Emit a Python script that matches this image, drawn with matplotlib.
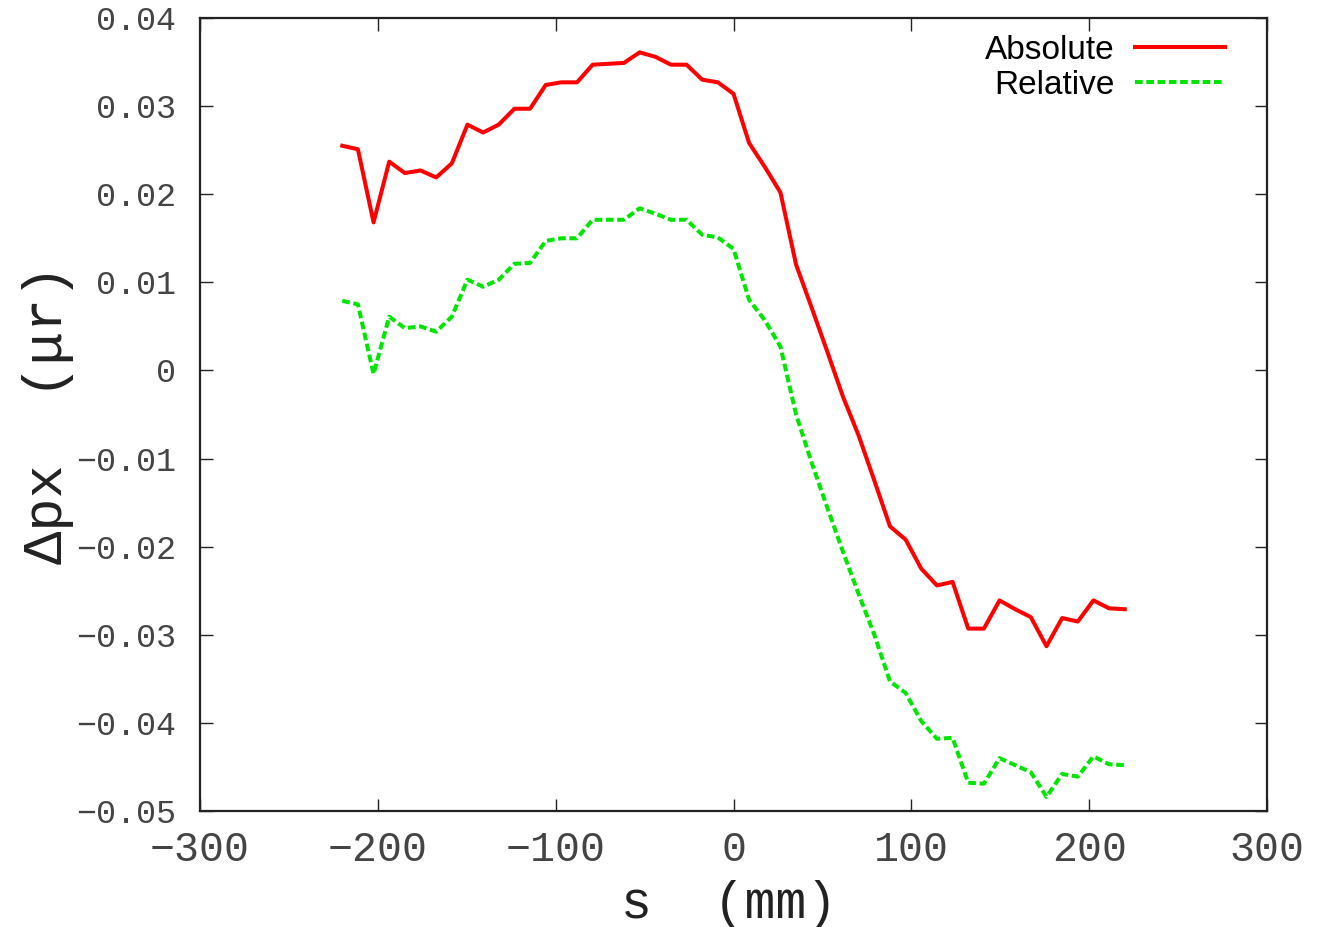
import matplotlib
matplotlib.use("Agg")
import matplotlib.pyplot as plt
import numpy as np

# s positions (mm)
s_mm = [-220.0, -211.2, -202.4, -193.6, -184.8, -176.0, -167.2, -158.4, -149.6, -140.8,
        -132.0, -123.2, -114.4, -105.6, -96.8, -88.0, -79.2, -70.4, -61.6, -52.8,
        -44.0, -35.2, -26.4, -17.6, -8.8, 0.0, 8.8, 17.6, 26.4, 35.2,
        44.0, 52.8, 61.6, 70.4, 79.2, 88.0, 96.8, 105.6, 114.4, 123.2,
        132.0, 140.8, 149.6, 158.4, 167.2, 176.0, 184.8, 193.6, 202.4, 211.2, 220.0]

absolute = [0.0255, 0.0251, 0.0168, 0.0237, 0.0224, 0.0227, 0.0219, 0.0235, 0.0279, 0.0270,
            0.0279, 0.0297, 0.0297, 0.0324, 0.0327, 0.0327, 0.0347, 0.0348, 0.0349, 0.0361,
            0.0356, 0.0347, 0.0347, 0.0330, 0.0327, 0.0314, 0.0258, 0.0231, 0.0202, 0.0120,
            0.0071, 0.0021, -0.0030, -0.0074, -0.0125, -0.0177, -0.0192, -0.0225, -0.0244, -0.0240,
            -0.0293, -0.0293, -0.0261, -0.0271, -0.0280, -0.0313, -0.0281, -0.0285, -0.0261, -0.0270, -0.0271]

relative = [0.0079, 0.0075, -0.0004, 0.0061, 0.0048, 0.0050, 0.0044, 0.0061, 0.0103, 0.0095,
            0.0103, 0.0121, 0.0122, 0.0147, 0.0150, 0.0150, 0.0171, 0.0171, 0.0171, 0.0184,
            0.0178, 0.0171, 0.0171, 0.0154, 0.0151, 0.0138, 0.0080, 0.0057, 0.0027, -0.0050,
            -0.0105, -0.0156, -0.0206, -0.0254, -0.0300, -0.0353, -0.0366, -0.0398, -0.0418, -0.0417,
            -0.0468, -0.0469, -0.0440, -0.0448, -0.0456, -0.0484, -0.0458, -0.0461, -0.0438, -0.0447, -0.0448]

x_ticks = [-300, -200, -100, 0, 100, 200, 300]
y_ticks = [-0.05, -0.04, -0.03, -0.02, -0.01, 0, 0.01, 0.02, 0.03, 0.04]
x_tick_labels = ["\u2212300", "\u2212200", "\u2212100", "0", "100", "200", "300"]
y_tick_labels = ["\u22120.05", "\u22120.04", "\u22120.03", "\u22120.02", "\u22120.01",
                 "0", "0.01", "0.02", "0.03", "0.04"]

mono = ["Liberation Mono", "DejaVu Sans Mono"]

fig = plt.figure(figsize=(13.26, 9.27), dpi=100)
ax = fig.add_axes([200/1326, 1 - 811/927, (1267-200)/1326, (811-18)/927])

ax.plot(s_mm, absolute, color="#ff0000", lw=2.9, label="Absolute")
ax.plot(s_mm, relative, color="#00e600", lw=2.9, dashes=(1.9, 0.9), label="Relative")

ax.set_xlim(-300, 300)
ax.set_ylim(-0.05, 0.04)
ax.set_xticks(x_ticks)
ax.set_xticklabels(x_tick_labels, family=mono, fontsize=30, color="#444444")
ax.set_yticks(y_ticks)
ax.set_yticklabels(y_tick_labels, family=mono, fontsize=24, color="#444444")

ax.tick_params(axis="both", direction="in", length=9, width=1.0, top=True, right=True, color="#222222")
ax.tick_params(axis="y", pad=17)
ax.tick_params(axis="x", pad=14)
for sp in ax.spines.values():
    sp.set_linewidth(1.6)
    sp.set_color("#222222")

ax.set_xlabel("s  (mm)", family=mono, fontsize=37, color="#222222")
ax.xaxis.set_label_coords(0.496, -0.087)
ax.set_ylabel("\u0394px  (\u03bcr)", family=mono, fontsize=40, color="#222222", labelpad=2)

leg = ax.legend(loc="upper right", bbox_to_anchor=((1225-200)/1067, 1 - 17/793),
                frameon=False, markerfirst=False, handlelength=2.7,
                handletextpad=0.6, borderaxespad=0, borderpad=0, labelspacing=0.12,
                prop={"family": "Liberation Sans", "size": 24})

fig.savefig("out.png", dpi=100)
